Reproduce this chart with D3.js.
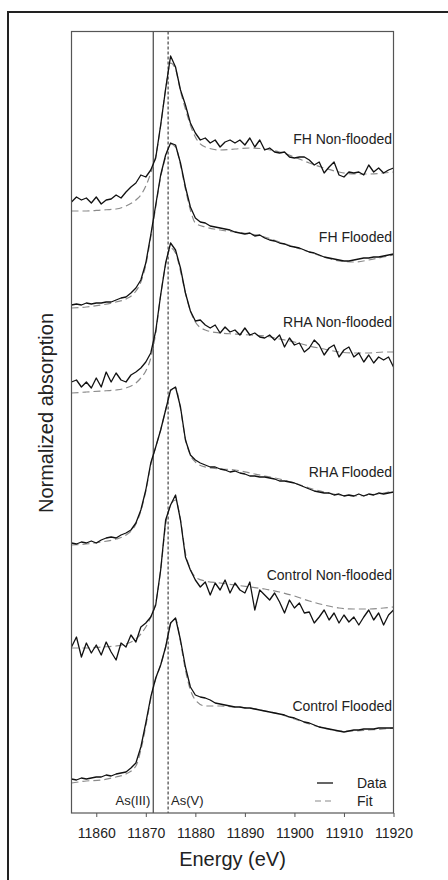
<!DOCTYPE html>
<html>
<head>
<meta charset="utf-8">
<script src="https://cdn.jsdelivr.net/npm/d3@7"></script>
<style>
  body { margin: 0; background: #fff; }
  text { font-family: "Liberation Sans", Arial, sans-serif; fill: #222; }
</style>
</head>
<body>
<div id="chart"></div>
<script>
// energy grid of the measured spectra (eV)
const energy = [11855, 11856, 11857, 11858, 11859, 11860, 11861, 11862, 11863, 11864,
  11865, 11866, 11867, 11868, 11869, 11870, 11871, 11872, 11873, 11874,
  11875, 11876, 11877, 11878, 11879, 11880, 11881, 11882, 11883, 11884,
  11885, 11886, 11887, 11888, 11889, 11890, 11891, 11892, 11893, 11894,
  11895, 11896, 11897, 11898, 11899, 11900, 11901, 11902, 11903, 11904,
  11905, 11906, 11907, 11908, 11909, 11910, 11911, 11912, 11913, 11914,
  11915, 11916, 11917, 11918, 11919, 11920];

// energy grid of the LCF fits
const fitEnergy = [11855, 11858, 11861, 11864, 11866, 11868, 11869, 11870, 11871, 11872,
  11873, 11874, 11875, 11876, 11877, 11878, 11879, 11880, 11882, 11885,
  11888, 11891, 11894, 11897, 11900, 11903, 11906, 11909, 11912, 11915,
  11918, 11920];

const samples = ['FH Non-flooded', 'FH Flooded', 'RHA Non-flooded', 'RHA Flooded',
  'Control Non-flooded', 'Control Flooded'];

// vertical stacking offset of each spectrum
const offsets = [6.02, 5.06, 4.20, 2.68, 1.58, 0.31];

const fhNonData = [0.09, 0.14, 0.11, 0.13, 0.08, 0.14, 0.07, 0.11, 0.12, 0.16,
  0.13, 0.19, 0.24, 0.28, 0.36, 0.34, 0.41, 0.53, 0.86, 1.22,
  1.55, 1.44, 1.21, 1.06, 0.88, 0.78, 0.71, 0.73, 0.68, 0.71,
  0.64, 0.69, 0.71, 0.68, 0.71, 0.66, 0.73, 0.64, 0.71, 0.61,
  0.63, 0.59, 0.58, 0.59, 0.54, 0.53, 0.54, 0.54, 0.51, 0.46,
  0.49, 0.38, 0.44, 0.49, 0.36, 0.34, 0.39, 0.38, 0.39, 0.36,
  0.46, 0.39, 0.43, 0.38, 0.41, 0.43];
const fhNonFit = [0.00, 0.00, 0.01, 0.02, 0.05, 0.11, 0.16, 0.25, 0.38, 0.55,
  0.85, 1.22, 1.48, 1.42, 1.20, 1.02, 0.86, 0.74, 0.64, 0.61,
  0.62, 0.63, 0.62, 0.59, 0.54, 0.48, 0.43, 0.39, 0.37, 0.37,
  0.38, 0.39];

const fhFloodData = [0.02, 0.03, 0.02, 0.04, 0.03, 0.04, 0.04, 0.05, 0.05, 0.07,
  0.09, 0.10, 0.14, 0.19, 0.27, 0.44, 0.72, 1.02, 1.32, 1.52,
  1.64, 1.62, 1.44, 1.20, 1.00, 0.89, 0.85, 0.84, 0.81, 0.80,
  0.79, 0.78, 0.77, 0.75, 0.74, 0.73, 0.74, 0.71, 0.72, 0.69,
  0.67, 0.66, 0.64, 0.63, 0.61, 0.60, 0.59, 0.57, 0.55, 0.54,
  0.52, 0.50, 0.49, 0.48, 0.47, 0.46, 0.46, 0.47, 0.48, 0.49,
  0.49, 0.50, 0.50, 0.51, 0.52, 0.53];
const fhFloodFit = [-0.01, 0.00, 0.02, 0.05, 0.08, 0.16, 0.25, 0.42, 0.70, 1.00,
  1.30, 1.50, 1.63, 1.60, 1.42, 1.18, 0.97, 0.84, 0.80, 0.77,
  0.75, 0.73, 0.70, 0.65, 0.60, 0.55, 0.50, 0.46, 0.45, 0.47,
  0.50, 0.52];

const rhaNonData = [0.11, 0.13, 0.06, 0.11, 0.05, 0.15, 0.06, 0.21, 0.11, 0.20,
  0.13, 0.11, 0.18, 0.21, 0.25, 0.31, 0.40, 0.62, 0.98, 1.30,
  1.50, 1.43, 1.25, 1.00, 0.82, 0.72, 0.73, 0.68, 0.65, 0.68,
  0.60, 0.66, 0.61, 0.63, 0.58, 0.65, 0.58, 0.60, 0.56, 0.55,
  0.58, 0.53, 0.58, 0.46, 0.55, 0.48, 0.50, 0.41, 0.45, 0.53,
  0.48, 0.38, 0.45, 0.48, 0.36, 0.43, 0.46, 0.36, 0.40, 0.31,
  0.38, 0.30, 0.36, 0.33, 0.36, 0.26];
const rhaNonFit = [0.00, 0.01, 0.02, 0.03, 0.05, 0.10, 0.15, 0.22, 0.35, 0.60,
  0.98, 1.28, 1.45, 1.40, 1.22, 1.00, 0.82, 0.71, 0.63, 0.60,
  0.59, 0.58, 0.57, 0.54, 0.51, 0.47, 0.44, 0.41, 0.40, 0.40,
  0.41, 0.41];

const rhaFloodData = [0.02, 0.01, 0.03, 0.02, 0.04, 0.02, 0.05, 0.07, 0.08, 0.07,
  0.10, 0.12, 0.15, 0.22, 0.35, 0.55, 0.82, 0.98, 1.15, 1.35,
  1.55, 1.58, 1.38, 1.05, 0.90, 0.85, 0.82, 0.80, 0.78, 0.78,
  0.76, 0.75, 0.73, 0.74, 0.72, 0.71, 0.69, 0.69, 0.68, 0.68,
  0.67, 0.66, 0.64, 0.64, 0.63, 0.62, 0.60, 0.58, 0.56, 0.54,
  0.53, 0.52, 0.52, 0.50, 0.51, 0.49, 0.50, 0.49, 0.51, 0.49,
  0.51, 0.50, 0.52, 0.51, 0.52, 0.53];
const rhaFloodFit = [0.00, 0.01, 0.03, 0.06, 0.10, 0.21, 0.34, 0.54, 0.80, 0.98,
  1.15, 1.35, 1.54, 1.57, 1.36, 1.06, 0.90, 0.83, 0.78, 0.76,
  0.75, 0.72, 0.69, 0.66, 0.62, 0.57, 0.53, 0.50, 0.49, 0.50,
  0.52, 0.54];

const ctlNonData = [0.08, 0.18, -0.02, 0.12, 0.02, 0.10, 0.00, 0.13, 0.03, -0.05,
  0.12, 0.08, 0.20, 0.13, 0.28, 0.32, 0.38, 0.50, 0.85, 1.35,
  1.50, 1.60, 1.35, 0.98, 0.85, 0.75, 0.68, 0.73, 0.60, 0.72,
  0.65, 0.75, 0.62, 0.72, 0.65, 0.62, 0.73, 0.45, 0.65, 0.60,
  0.55, 0.62, 0.53, 0.42, 0.55, 0.47, 0.52, 0.42, 0.43, 0.32,
  0.38, 0.45, 0.35, 0.42, 0.32, 0.40, 0.33, 0.38, 0.30, 0.38,
  0.45, 0.35, 0.42, 0.30, 0.40, 0.45];
const ctlNonFit = [0.07, 0.07, 0.08, 0.09, 0.11, 0.16, 0.21, 0.28, 0.38, 0.52,
  0.85, 1.30, 1.50, 1.55, 1.35, 1.02, 0.86, 0.78, 0.74, 0.72,
  0.70, 0.68, 0.66, 0.63, 0.59, 0.54, 0.50, 0.47, 0.46, 0.46,
  0.47, 0.48];

const ctlFloodData = [0.03, 0.02, 0.04, 0.03, 0.04, 0.05, 0.05, 0.07, 0.06, 0.08,
  0.09, 0.10, 0.14, 0.19, 0.35, 0.59, 0.85, 1.04, 1.17, 1.35,
  1.59, 1.64, 1.42, 1.15, 0.95, 0.87, 0.85, 0.84, 0.82, 0.79,
  0.78, 0.77, 0.76, 0.75, 0.75, 0.74, 0.74, 0.73, 0.72, 0.71,
  0.70, 0.69, 0.68, 0.67, 0.65, 0.64, 0.62, 0.60, 0.59, 0.57,
  0.55, 0.54, 0.53, 0.52, 0.51, 0.50, 0.51, 0.52, 0.52, 0.53,
  0.53, 0.53, 0.54, 0.54, 0.54, 0.54];
const ctlFloodFit = [-0.01, 0.01, 0.02, 0.05, 0.08, 0.16, 0.32, 0.56, 0.83, 1.03,
  1.17, 1.35, 1.58, 1.63, 1.40, 1.12, 0.92, 0.82, 0.76, 0.76,
  0.75, 0.74, 0.71, 0.68, 0.63, 0.58, 0.54, 0.51, 0.51, 0.52,
  0.53, 0.54];

const dataSeries = [fhNonData, fhFloodData, rhaNonData, rhaFloodData, ctlNonData, ctlFloodData];
const fitSeries = [fhNonFit, fhFloodFit, rhaNonFit, rhaFloodFit, ctlNonFit, ctlFloodFit];

// reference edge positions
const refLines = [
  { name: 'As(III)', e: 11871.5 },
  { name: 'As(V)', e: 11874.5 }
];
const xTicks = [11860, 11870, 11880, 11890, 11900, 11910, 11920];

// layout
const width = 448;
const height = 880;
const margin = { top: 31.5, right: 55, bottom: 67, left: 71.5 };
const labelBaselines = [144, 241.5, 326.5, 476.5, 580, 710.5];

const svg = d3.select('#chart')
  .append('svg')
  .attr('width', width)
  .attr('height', height);

// outer frame of the figure
svg.append('rect')
  .attr('x', 8)
  .attr('y', 12)
  .attr('width', 460)
  .attr('height', 900)
  .attr('fill', 'none')
  .attr('stroke', '#222')
  .attr('stroke-width', 2);

const x = d3.scaleLinear()
  .domain([11855, 11920])
  .range([margin.left, width - margin.right + 0.5]);

const y = d3.scaleLinear()
  .domain([0, 7.815])
  .range([height - margin.bottom, margin.top]);

// x axis
const xAxis = svg.append('g')
  .attr('transform', `translate(0,${height - margin.bottom})`)
  .call(d3.axisBottom(x).tickValues(xTicks).tickFormat(d3.format('d'))
    .tickSize(4).tickSizeOuter(0).tickPadding(11));
xAxis.select('.domain').remove();
xAxis.selectAll('line').attr('stroke', '#555');
xAxis.selectAll('text')
  .attr('font-size', '14px')
  .attr('font-family', '"Liberation Sans", Arial, sans-serif')
  .attr('fill', '#222');

svg.append('text')
  .attr('x', (x.range()[0] + x.range()[1]) / 2)
  .attr('y', 866)
  .attr('text-anchor', 'middle')
  .attr('font-size', '20px')
  .text('Energy (eV)');

svg.append('text')
  .attr('transform', 'translate(52.5,413) rotate(-90)')
  .attr('text-anchor', 'middle')
  .attr('font-size', '20px')
  .text('Normalized absorption');

// reference lines for As(III) and As(V)
svg.append('line')
  .attr('x1', x(refLines[0].e)).attr('x2', x(refLines[0].e))
  .attr('y1', y.range()[1]).attr('y2', y.range()[0])
  .attr('stroke', '#333')
  .attr('stroke-width', 1.1);
svg.append('line')
  .attr('x1', x(refLines[1].e)).attr('x2', x(refLines[1].e))
  .attr('y1', y.range()[1]).attr('y2', y.range()[0])
  .attr('stroke', '#333')
  .attr('stroke-width', 1.1)
  .attr('stroke-dasharray', '3,2');

svg.append('text')
  .attr('x', x(refLines[0].e) - 3)
  .attr('y', 805)
  .attr('text-anchor', 'end')
  .attr('font-size', '13px')
  .text(refLines[0].name);
svg.append('text')
  .attr('x', x(refLines[1].e) + 3)
  .attr('y', 805)
  .attr('font-size', '13px')
  .text(refLines[1].name);

// fits
const fitLine = d3.line()
  .x((d, i) => x(fitEnergy[i]))
  .curve(d3.curveMonotoneX);

fitSeries.forEach(function (vals, k) {
  svg.append('path')
    .datum(vals)
    .attr('fill', 'none')
    .attr('stroke', '#8a8a8a')
    .attr('stroke-width', 1.2)
    .attr('stroke-dasharray', '7,4')
    .attr('d', fitLine.y(d => y(d + offsets[k])));
});

// measured spectra
const dataLine = d3.line()
  .x((d, i) => x(energy[i]));

dataSeries.forEach(function (vals, k) {
  svg.append('path')
    .datum(vals)
    .attr('fill', 'none')
    .attr('stroke', '#111')
    .attr('stroke-width', 1.3)
    .attr('stroke-linejoin', 'round')
    .attr('d', dataLine.y(d => y(d + offsets[k])));
});

// sample labels
samples.forEach(function (name, k) {
  svg.append('text')
    .attr('x', x.range()[1] - 1.5)
    .attr('y', labelBaselines[k])
    .attr('text-anchor', 'end')
    .attr('font-size', '14px')
    .text(name);
});

// legend
svg.append('line')
  .attr('x1', 317).attr('x2', 333).attr('y1', 783).attr('y2', 783)
  .attr('stroke', '#111').attr('stroke-width', 1.3);
svg.append('line')
  .attr('x1', 315).attr('x2', 332).attr('y1', 801).attr('y2', 801)
  .attr('stroke', '#8a8a8a').attr('stroke-width', 1.2)
  .attr('stroke-dasharray', '6,4');
svg.append('text').attr('x', 357).attr('y', 788).attr('font-size', '14px').text('Data');
svg.append('text').attr('x', 357).attr('y', 806).attr('font-size', '14px').text('Fit');

// plot frame
svg.append('rect')
  .attr('x', x.range()[0])
  .attr('y', y.range()[1])
  .attr('width', x.range()[1] - x.range()[0])
  .attr('height', y.range()[0] - y.range()[1])
  .attr('fill', 'none')
  .attr('stroke', '#555')
  .attr('stroke-width', 1.2);
</script>
</body>
</html>
